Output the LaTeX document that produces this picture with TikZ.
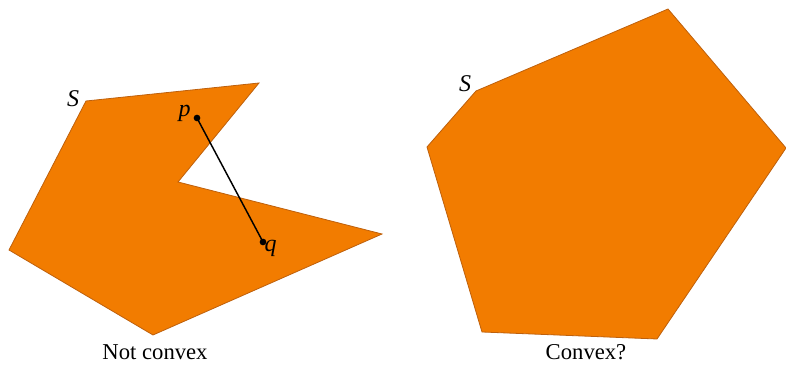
\documentclass[tikz,border=0pt]{standalone}
\usepackage{fontspec}
\setmainfont{Liberation Serif}

\tikzset{every picture/.style={line width=0.75pt}}
\tikzset{
region/.style={draw={rgb, 255:red, 190; green, 96; blue, 12}, fill={rgb, 255:red, 242; green, 124; blue, 0}, line width=0.6pt},
caption/.style={inner sep=0.75pt, font=\fontsize{17}{20}\selectfont},
setlabel/.style={inner sep=0.75pt, font=\fontsize{18}{20}\selectfont\itshape},
dot/.style={circle, fill=black, inner sep=0pt, minimum size=5pt}}

\begin{document}
\begin{tikzpicture}[x=0.75pt,y=0.75pt,yscale=-1,xscale=1]
\useasboundingbox (0,0) rectangle (786,366);

%Shape: Polygon, not convex
\coordinate (A1) at (86,101);
\coordinate (A2) at (259,83);
\coordinate (A3) at (178,182);
\coordinate (A4) at (382,234);
\coordinate (A5) at (153,335);
\coordinate (A6) at (9,250);
\draw [region] (A1) -- (A2) -- (A3) -- (A4) -- (A5) -- (A6) -- cycle ;

%Shape: Polygon, convex
\coordinate (B1) at (476,91);
\coordinate (B2) at (668,9);
\coordinate (B3) at (786,148);
\coordinate (B4) at (657,339);
\coordinate (B5) at (482,332);
\coordinate (B6) at (427,147);
\draw [region] (B1) -- (B2) -- (B3) -- (B4) -- (B5) -- (B6) -- cycle ;

%Straight Lines
\node [dot] (p) at (197,118) {};
\node [dot] (q) at (263,242) {};
\draw [line width=1.1pt] (p.center) -- (q.center) ;

% Text Node
\node [setlabel, anchor=east] (plabel) at (192,113) {p};
% Text Node
\node [setlabel, anchor=west] (qlabel) at (263,248) {q};
% Text Node
\node [setlabel] (sleft) at (73,99) {S};
% Text Node
\node [setlabel] (sright) at (465,84) {S};
% Text Node
\node [caption] (notconvex) at (155,352) {Not convex};
% Text Node
\node [caption] (convex) at (586,352) {Convex?};

\end{tikzpicture}
\end{document}
